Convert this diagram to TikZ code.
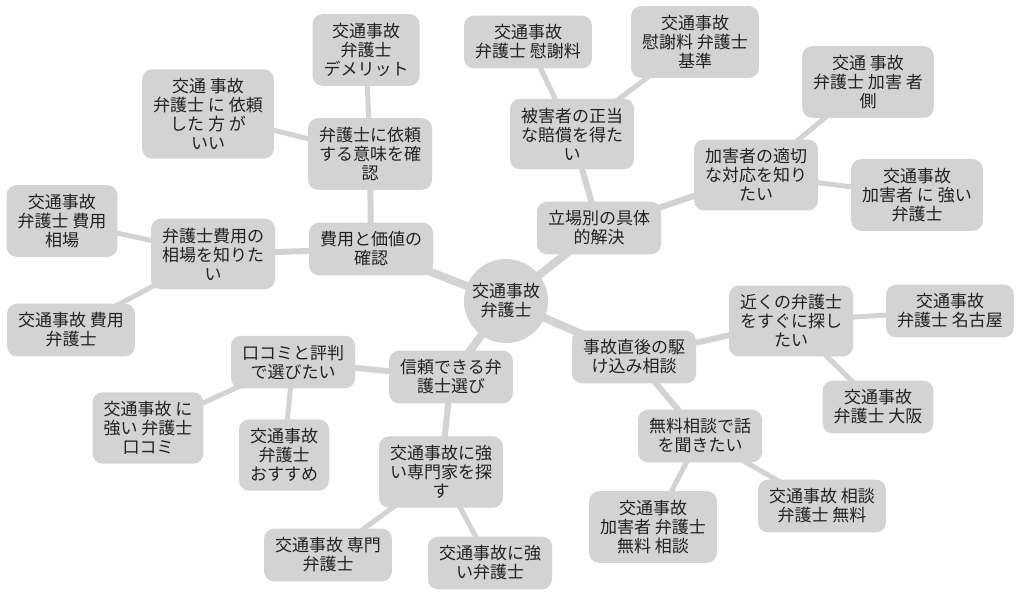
\documentclass[tikz,border=0pt]{standalone}
\usepackage{fontspec}
\newfontfamily\jpfont{Noto Sans CJK JP}
\usetikzlibrary{backgrounds}
\definecolor{boxgray}{HTML}{D3D3D3}
\definecolor{inkgray}{HTML}{222222}

\begin{document}
\begin{tikzpicture}[x=1pt,y=-1pt,
  box/.style={fill=boxgray,rounded corners=10pt,align=center,inner xsep=11pt,inner ysep=9pt,
    font=\jpfont\fontsize{17}{19}\selectfont,text=inkgray},
  hub/.style={fill=boxgray,circle,inner sep=0pt,minimum size=84pt,align=center,
    font=\jpfont\fontsize{17}{19}\selectfont,text=inkgray},
  lv1/.style={boxgray,line width=8pt},
  lv2/.style={boxgray,line width=6pt},
  lv3/.style={boxgray,line width=5pt}]
\useasboundingbox (0,0) rectangle (1024,598);

\draw (506,301) node[hub] (T) {交通事故\\弁護士};

\draw (371,249) node[box] (T1) {費用と価値の\\確認};
\draw (370,154) node[box] (T11) {弁護士に依頼\\する意味を確\\認};
\draw (366,50) node[box] (T111) {交通事故\\弁護士\\デメリット};
\draw (208,114) node[box] (T112) {交通 事故\\弁護士 に 依頼\\した 方 が\\いい};
\draw (213,254) node[box] (T12) {弁護士費用の\\相場を知りた\\い};
\draw (62,221) node[box] (T121) {交通事故\\弁護士 費用\\相場};
\draw (71,330) node[box] (T122) {交通事故 費用\\弁護士};

\draw (599,228) node[box] (T2) {立場別の具体\\的解決};
\draw (572,134) node[box] (T21) {被害者の正当\\な賠償を得た\\い};
\draw (528,42) node[box] (T211) {交通事故\\弁護士 慰謝料};
\draw (695,42) node[box] (T212) {交通事故\\慰謝料 弁護士\\基準};
\draw (756,175) node[box] (T22) {加害者の適切\\な対応を知り\\たい};
\draw (868,82) node[box] (T221) {交通 事故\\弁護士 加害 者\\側};
\draw (917,195) node[box] (T222) {交通事故\\加害者 に 強い\\弁護士};

\draw (634,357) node[box] (T3) {事故直後の駆\\け込み相談};
\draw (791,321) node[box] (T31) {近くの弁護士\\をすぐに探し\\たい};
\draw (950,311) node[box] (T311) {交通事故\\弁護士 名古屋};
\draw (878,407) node[box] (T312) {交通事故\\弁護士 大阪};
\draw (700,436) node[box] (T32) {無料相談で話\\を聞きたい};
\draw (653,527) node[box] (T321) {交通事故\\加害者 弁護士\\無料 相談};
\draw (822,506) node[box] (T322) {交通事故 相談\\弁護士 無料};

\draw (451,377) node[box] (T4) {信頼できる弁\\護士選び};
\draw (293,362) node[box] (T41) {口コミと評判\\で選びたい};
\draw (148,428) node[box] (T411) {交通事故 に\\強い 弁護士\\口コミ};
\draw (284,455) node[box] (T412) {交通事故\\弁護士\\おすすめ};
\draw (441,472) node[box] (T42) {交通事故に強\\い専門家を探\\す};
\draw (328,555) node[box] (T421) {交通事故 専門\\弁護士};
\draw (490,563) node[box] (T422) {交通事故に強\\い弁護士};

\begin{scope}[on background layer]
\draw[lv1] (T.center) -- (T1.center);
\draw[lv1] (T.center) -- (T2.center);
\draw[lv1] (T.center) -- (T3.center);
\draw[lv1] (T.center) -- (T4.center);
\draw[lv2] (T1.center) -- (T11.center);
\draw[lv2] (T1.center) -- (T12.center);
\draw[lv2] (T2.center) -- (T21.center);
\draw[lv2] (T2.center) -- (T22.center);
\draw[lv2] (T3.center) -- (T31.center);
\draw[lv2] (T3.center) -- (T32.center);
\draw[lv2] (T4.center) -- (T41.center);
\draw[lv2] (T4.center) -- (T42.center);
\draw[lv3] (T11.center) -- (T111.center);
\draw[lv3] (T11.center) -- (T112.center);
\draw[lv3] (T12.center) -- (T121.center);
\draw[lv3] (T12.center) -- (T122.center);
\draw[lv3] (T21.center) -- (T211.center);
\draw[lv3] (T21.center) -- (T212.center);
\draw[lv3] (T22.center) -- (T221.center);
\draw[lv3] (T22.center) -- (T222.center);
\draw[lv3] (T31.center) -- (T311.center);
\draw[lv3] (T31.center) -- (T312.center);
\draw[lv3] (T32.center) -- (T321.center);
\draw[lv3] (T32.center) -- (T322.center);
\draw[lv3] (T41.center) -- (T411.center);
\draw[lv3] (T41.center) -- (T412.center);
\draw[lv3] (T42.center) -- (T421.center);
\draw[lv3] (T42.center) -- (T422.center);
\end{scope}
\end{tikzpicture}
\end{document}
